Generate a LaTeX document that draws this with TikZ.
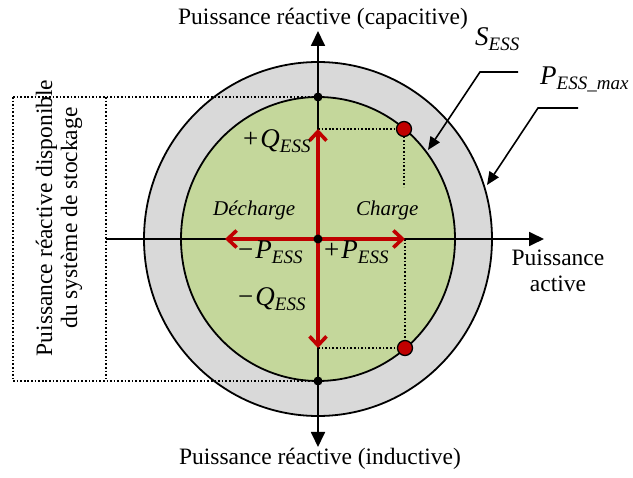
\documentclass[tikz,border=0pt]{standalone}
\usepackage{fontspec}
\setmainfont{Liberation Serif}
\usetikzlibrary{arrows.meta}
\definecolor{ringgray}{HTML}{D9D9D9}
\definecolor{diskgreen}{HTML}{C4D79B}
\definecolor{arrred}{HTML}{C00000}
\newcommand{\mlab}[3]{#1\kern2pt\textit{#2}\raisebox{-4.5pt}{\fontsize{19}{20}\selectfont\itshape #3}}
\tikzset{
  outline/.style={draw=black, line width=1.8pt},
  axis/.style={line width=1.8pt, -{Triangle[length=15pt,width=14pt]}},
  axisboth/.style={line width=1.8pt, {Triangle[length=15pt,width=14pt]}-{Triangle[length=15pt,width=14pt]}},
  leader/.style={line width=1.6pt, -{Triangle[length=13pt,width=11pt]}},
  redarrow/.style={draw=arrred, line width=3.6pt, -{Straight Barb[length=9pt,width=17pt]}},
  dots/.style={line width=1.7pt, dash pattern=on 1.7pt off 1.9pt},
  blackdot/.style={circle, fill=black, inner sep=0pt, minimum size=9pt},
  reddot/.style={circle, fill=arrred, draw=black, line width=1.3pt, inner sep=0pt, minimum size=15pt},
  lbl/.style={font=\fontsize{23.5}{25}\selectfont, inner sep=0pt},
  mlbl/.style={font=\fontsize{27}{28}\selectfont, inner sep=0pt},
  ilbl/.style={font=\fontsize{21}{22}\selectfont\itshape, inner sep=0pt}
}
\begin{document}
\begin{tikzpicture}[x=1pt,y=-1pt]
\useasboundingbox (0,0) rectangle (633,478);
\coordinate (O) at (318,239);
% rings
\fill[ringgray] (O) ellipse [x radius=174pt, y radius=177pt];
\draw[outline] (O) ellipse [x radius=174pt, y radius=177pt];
\fill[diskgreen] (O) ellipse [x radius=137pt, y radius=142pt];
\draw[outline] (O) ellipse [x radius=137pt, y radius=142pt];
% key points
\coordinate (qtop) at (318,97);
\coordinate (qbot) at (318,381);
\coordinate (boxTL) at (13,97);
\coordinate (boxBL) at (13,381);
\coordinate (boxTR) at (106,97);
\coordinate (boxBR) at (106,381);
\coordinate (upTip) at (318,129);
\coordinate (dnTip) at (318,348);
\coordinate (ltTip) at (225,239);
\coordinate (rtTip) at (405,239);
\coordinate (rdU) at (404,129);
\coordinate (rdD) at (405,348);
\coordinate (rdUend) at (404,187);
% dotted box and guides
\draw[dots] (boxTL) -- (qtop);
\draw[dots] (boxBL) -- (qbot);
\draw[dots] (boxTL) -- (boxBL);
\draw[dots] (boxTR) -- (boxBR);
\draw[dots] (upTip) -- (rdU) -- (rdUend);
\draw[dots] (rtTip) -- (rdD) -- (dnTip);
% axes
\coordinate (xL) at (106,239);
\coordinate (xR) at (544,239);
\coordinate (yT) at (318,31);
\coordinate (yB) at (318,447);
\draw[axis] (xL) -- (xR);
\draw[axisboth] (yB) -- (yT);
% red arrows
\draw[redarrow] (O) -- (upTip);
\draw[redarrow] (O) -- (dnTip);
\draw[redarrow] (O) -- (ltTip);
\draw[redarrow] (O) -- (rtTip);
% dots
\node[blackdot] (dO) at (O) {};
\node[blackdot] (dT) at (qtop) {};
\node[blackdot] (dB) at (qbot) {};
\node[reddot] (pU) at (rdU) {};
\node[reddot] (pD) at (rdD) {};
% axis labels
\node[lbl, anchor=base] (capa) at (323,25) {Puissance réactive (capacitive)};
\node[lbl, anchor=base] (indu) at (320,465) {Puissance réactive (inductive)};
\node[lbl, anchor=base] (act1) at (558,266) {Puissance};
\node[lbl, anchor=base] (act2) at (558,292) {active};
\node[lbl, rotate=90, align=center] (avail) at (59,218) {Puissance réactive disponible\\du système de stockage};
% leader labels
\node[mlbl, anchor=base west] (sess) at (475,46) {\textit{S}\raisebox{-4.5pt}{\fontsize{19}{20}\selectfont\itshape ESS}};
\node[mlbl, anchor=base west] (pmax) at (540,85) {\textit{P}\raisebox{-4.5pt}{\fontsize{19}{20}\selectfont\itshape ESS\_max}};
\coordinate (sA) at (518,72);
\coordinate (sB) at (480,72);
\coordinate (sTip) at (428,150);
\coordinate (pA) at (578,108);
\coordinate (pB) at (538,108);
\coordinate (pTip) at (487,185);
\draw[leader] (sA) -- (sB) -- (sTip);
\draw[leader] (pA) -- (pB) -- (pTip);
% inner labels
\node[mlbl, anchor=base west] (pq) at (243,148) {\mlab{+}{Q}{ESS}};
\node[mlbl, anchor=base west] (mq) at (238,306) {\mlab{−}{Q}{ESS}};
\node[mlbl, anchor=base west] (mp) at (238,259) {\mlab{−}{P}{ESS}};
\node[mlbl, anchor=base west] (pp) at (324,259) {\mlab{+}{P}{ESS}};
\node[ilbl, anchor=base west] (dech) at (213,216) {Décharge};
\node[ilbl, anchor=base west] (char) at (356,216) {Charge};
\end{tikzpicture}
\end{document}
